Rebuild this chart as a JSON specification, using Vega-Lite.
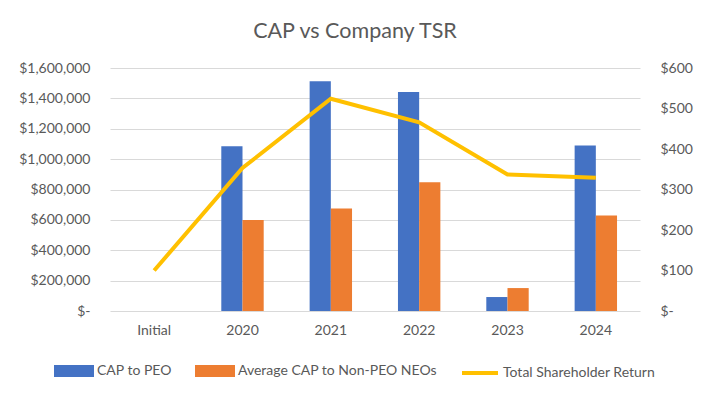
{
  "$schema": "https://vega.github.io/schema/vega-lite/v6.json",
  "width": 530,
  "height": 243,
  "autosize": {"type": "none"},
  "padding": {"left": 110, "top": 68, "right": 70, "bottom": 86},
  "background": "white",
  "config": {"font": "Lato", "view": {"stroke": null}},
  "title": {"text": "CAP vs Company TSR", "fontSize": 21.5, "fontWeight": "normal", "color": "#595959", "offset": 19, "dx": -20},
  "datasets": {
    "cap": [
      {"year": "2020", "series": "CAP to PEO", "value": 1085000},
      {"year": "2020", "series": "Average CAP to Non-PEO NEOs", "value": 600000},
      {"year": "2021", "series": "CAP to PEO", "value": 1512000},
      {"year": "2021", "series": "Average CAP to Non-PEO NEOs", "value": 675000},
      {"year": "2022", "series": "CAP to PEO", "value": 1442000},
      {"year": "2022", "series": "Average CAP to Non-PEO NEOs", "value": 848000},
      {"year": "2023", "series": "CAP to PEO", "value": 92000},
      {"year": "2023", "series": "Average CAP to Non-PEO NEOs", "value": 151000},
      {"year": "2024", "series": "CAP to PEO", "value": 1089000},
      {"year": "2024", "series": "Average CAP to Non-PEO NEOs", "value": 629000}
    ],
    "tsr": [
      {"year": "Initial", "tsr": 100},
      {"year": "2020", "tsr": 353},
      {"year": "2021", "tsr": 524},
      {"year": "2022", "tsr": 466},
      {"year": "2023", "tsr": 337},
      {"year": "2024", "tsr": 329}
    ]
  },
  "encoding": {
    "x": {
      "field": "year", "type": "nominal", "sort": null,
      "scale": {"domain": ["Initial", "2020", "2021", "2022", "2023", "2024"], "paddingInner": 0.52, "paddingOuter": 0.26},
      "axis": {"title": null, "labelAngle": 0, "ticks": false, "domain": false, "labelColor": "#595959", "labelFontSize": 14, "labelPadding": 12}
    }
  },
  "layer": [
    {
      "data": {"name": "cap"},
      "mark": {"type": "bar"},
      "encoding": {
        "xOffset": {"field": "series", "type": "nominal", "sort": null, "scale": {"domain": ["CAP to PEO", "Average CAP to Non-PEO NEOs"]}},
        "y": {
          "field": "value", "type": "quantitative",
          "scale": {"domain": [0, 1600000]},
          "axis": {"title": null, "values": [0, 200000, 400000, 600000, 800000, 1000000, 1200000, 1400000, 1600000], "labelExpr": "datum.value === 0 ? '$-' : '$' + format(datum.value, ',')", "ticks": false, "domain": false, "gridColor": "#d9d9d9", "labelColor": "#595959", "labelFontSize": 14, "labelPadding": 20}
        },
        "color": {
          "field": "series", "type": "nominal",
          "scale": {"domain": ["CAP to PEO", "Average CAP to Non-PEO NEOs", "Total Shareholder Return"], "range": ["#4472C4", "#ED7D31", "#FFC000"]},
          "legend": {
            "title": null, "orient": "none", "direction": "horizontal", "legendX": -56, "legendY": 283,
            "labelFontSize": 14, "labelColor": "#595959", "labelOffset": 3, "columnPadding": 17, "labelLimit": 0,
            "symbolSize": 1296,
            "encode": {
              "symbols": {
                "update": {
                  "shape": {"signal": "datum.value === 'Total Shareholder Return' ? 'M-1,0H1' : 'M-1,-0.22H1V0.22H-1Z'"},
                  "fill": {"signal": "datum.value === 'Total Shareholder Return' ? 'transparent' : (datum.value === 'CAP to PEO' ? '#4472C4' : '#ED7D31')"},
                  "stroke": {"signal": "datum.value === 'Total Shareholder Return' ? '#FFC000' : 'transparent'"},
                  "strokeWidth": {"value": 4},
                  "opacity": {"value": 1}
                }
              }
            }
          }
        }
      }
    },
    {
      "data": {"name": "tsr"},
      "mark": {"type": "line", "strokeWidth": 4},
      "encoding": {
        "y": {
          "field": "tsr", "type": "quantitative",
          "scale": {"domain": [0, 600]},
          "axis": {"title": null, "orient": "right", "values": [0, 100, 200, 300, 400, 500, 600], "labelExpr": "datum.value === 0 ? '$-' : '$' + datum.value", "grid": false, "ticks": false, "domain": false, "labelColor": "#595959", "labelFontSize": 14, "labelPadding": 20}
        },
        "color": {"datum": "Total Shareholder Return"}
      }
    }
  ],
  "resolve": {"scale": {"y": "independent"}}
}
